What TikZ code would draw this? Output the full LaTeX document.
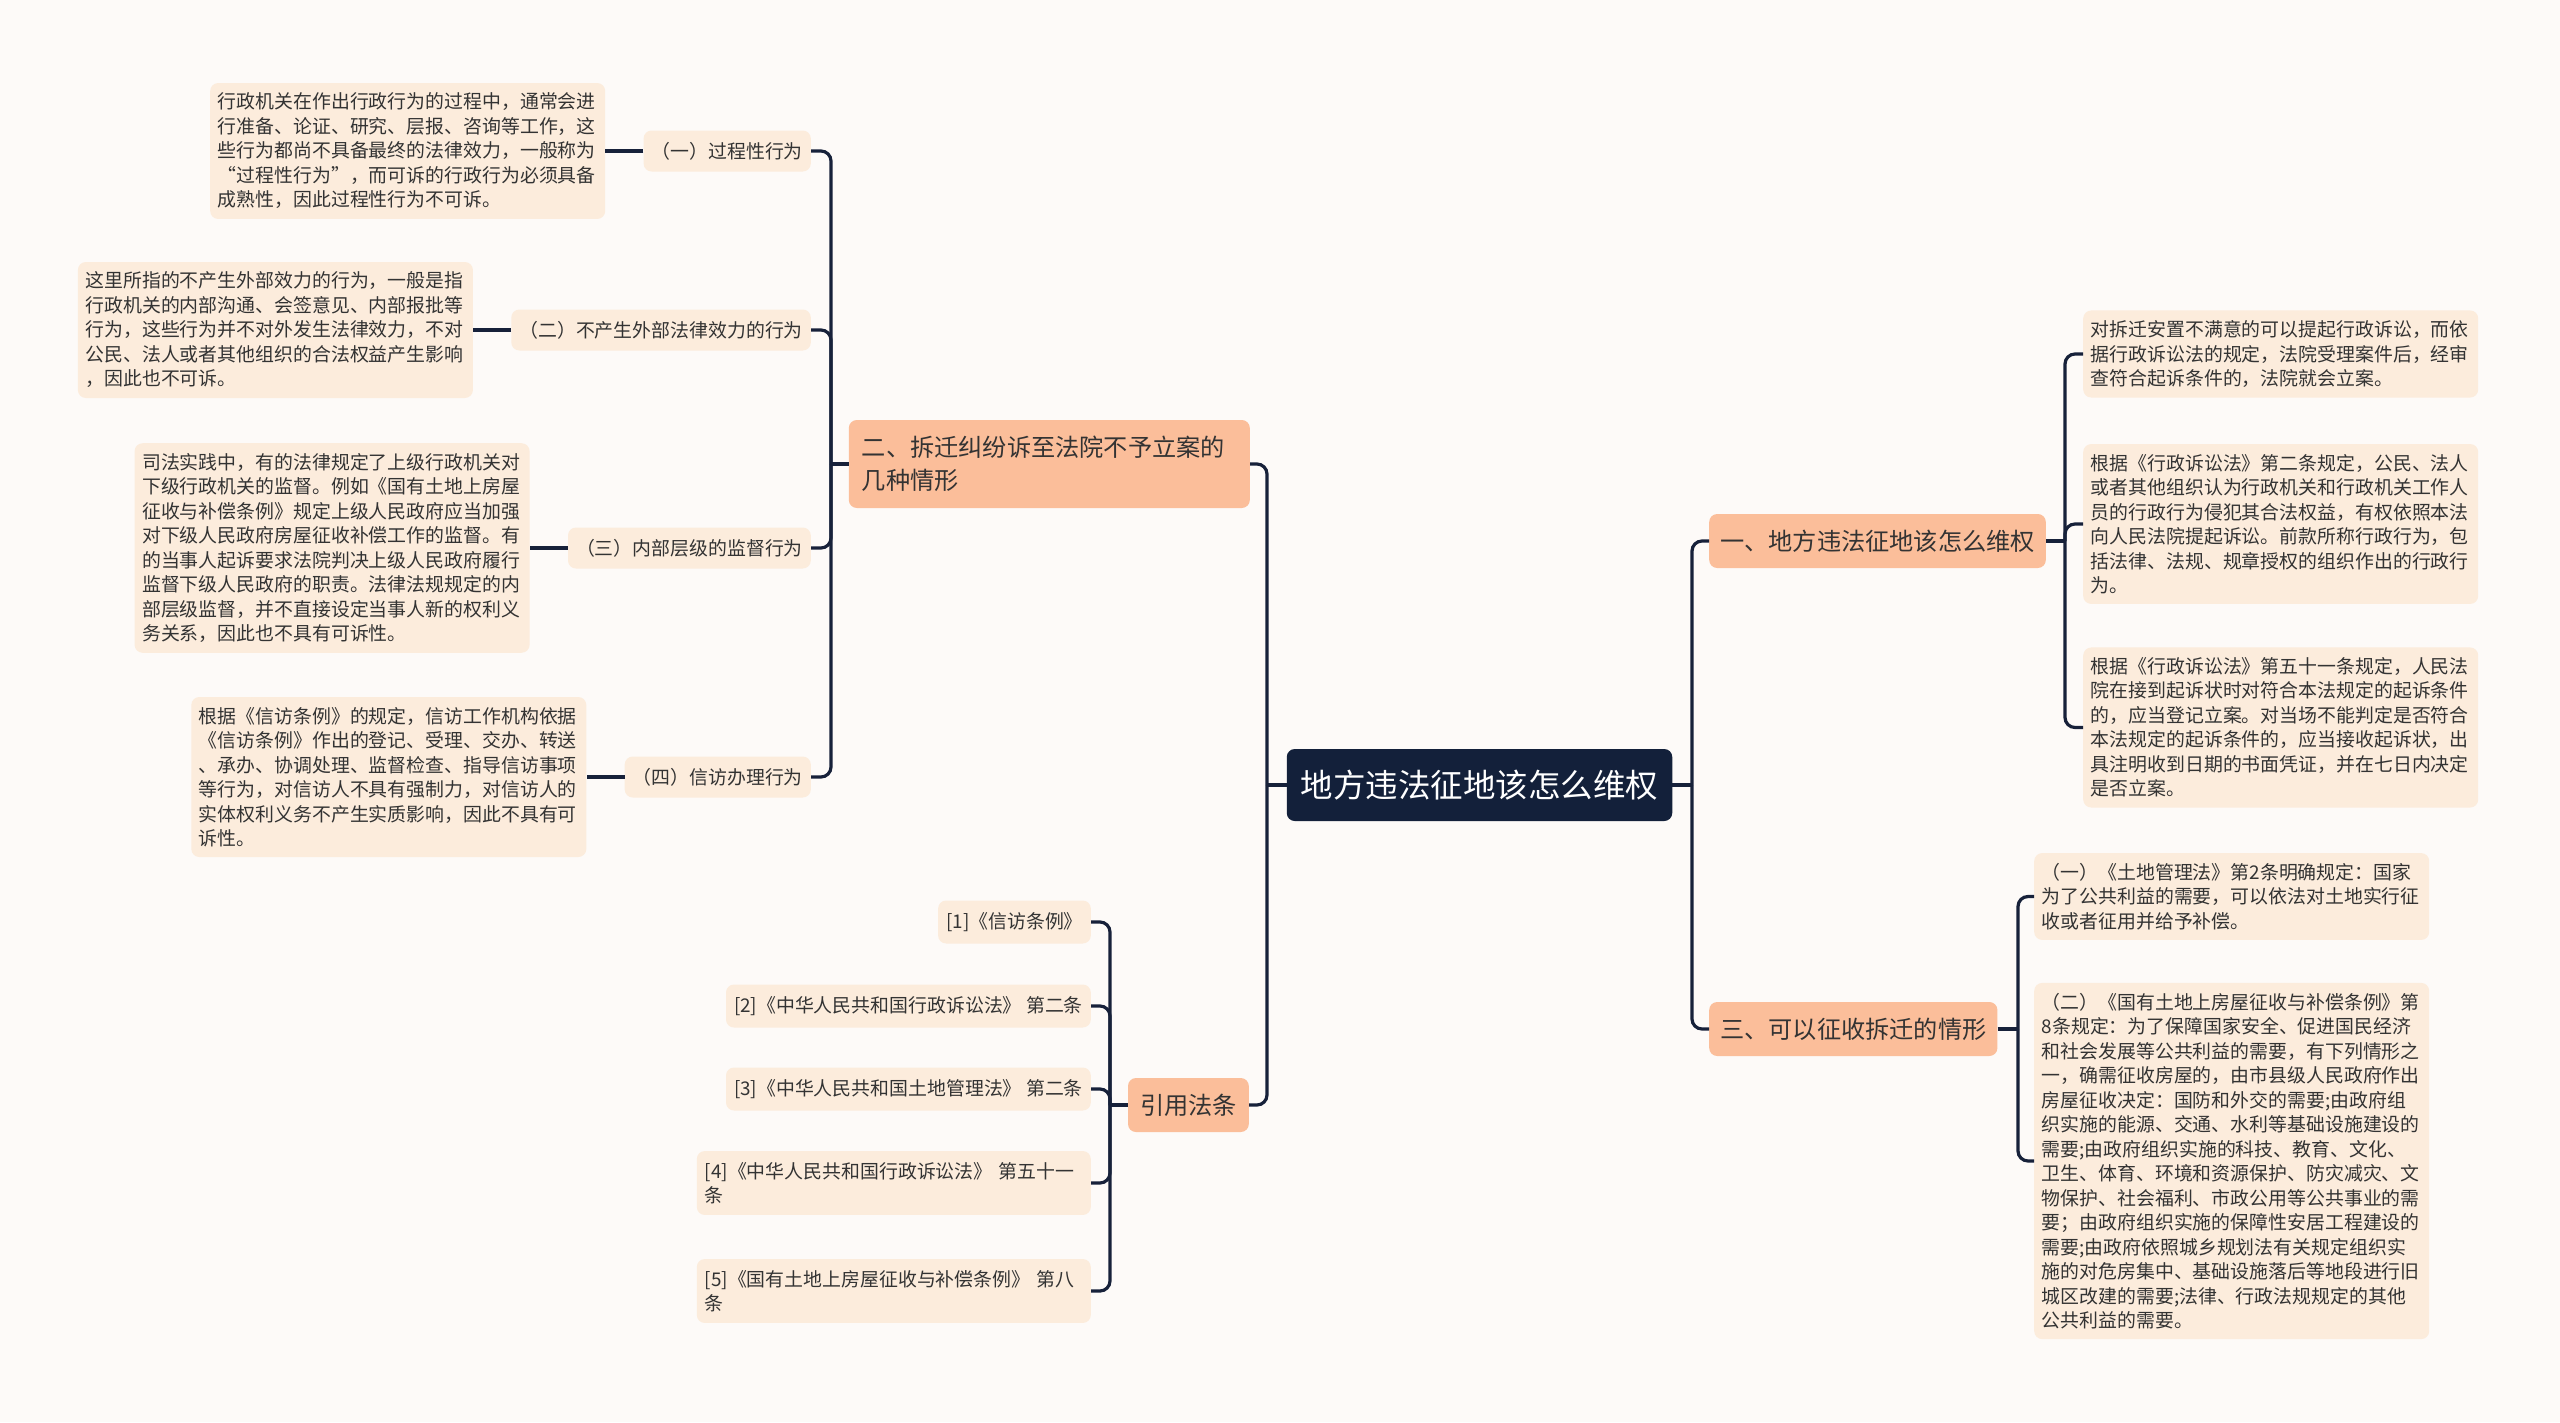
\documentclass[tikz,border=0pt]{standalone}
\usepackage{fontspec}
\setmainfont{Noto Sans CJK SC}
\definecolor{bgc}{HTML}{FDFAF8}
\definecolor{linec}{HTML}{17213A}
\definecolor{rootc}{HTML}{13203A}
\definecolor{lonec}{HTML}{FBBE9A}
\definecolor{leafc}{HTML}{FCECDC}
\definecolor{txtc}{HTML}{333333}
\tikzset{
  rootbox/.style={fill=rootc, text=white, rounded corners=8, inner xsep=14, minimum height=72,
    font=\fontsize{32.5}{36}\selectfont},
  lonebox/.style={fill=lonec, text=txtc, rounded corners=8, inner xsep=11, minimum height=54,
    font=\fontsize{24.2}{32.6}\selectfont},
  ltwobox/.style={fill=leafc, text=txtc, rounded corners=8, inner xsep=8, minimum height=41,
    font=\fontsize{18.9}{24.5}\selectfont},
  descbox/.style={fill=leafc, text=txtc, rounded corners=8, inner xsep=7.5, inner ysep=10,
    text width=380, align=left, font=\fontsize{18.9}{24.5}\selectfont},
  citebox/.style={fill=leafc, text=txtc, rounded corners=8, inner xsep=8, inner ysep=11, minimum height=43,
    align=left, font=\fontsize{18.9}{24.5}\selectfont},
  conn/.style={draw=linec, line width=3.2, rounded corners=10},
}
\begin{document}
\begin{tikzpicture}[x=1pt, y=-1pt]
\fill[bgc] (0,0) rectangle (2560,1422);
\useasboundingbox (0,0) rectangle (2560,1422);

% root
\node[rootbox] (root) at (1479.5,785) {地方违法征地该怎么维权};

% level one
\node[lonebox, anchor=east, text width=375, align=left, inner xsep=13, minimum height=88] (n2) at (1250,464)
  {二、拆迁纠纷诉至法院不予立案的\\几种情形};
\node[lonebox, anchor=east, inner xsep=12] (cite) at (1249,1105) {引用法条};
\node[lonebox, anchor=west] (n1) at (1709,541) {一、地方违法征地该怎么维权};
\node[lonebox, anchor=west] (n3) at (1709,1029) {三、可以征收拆迁的情形};

% left level two
\node[ltwobox, anchor=east] (a1) at (811,151) {（一）过程性行为};
\node[ltwobox, anchor=east] (a2) at (811,330) {（二）不产生外部法律效力的行为};
\node[ltwobox, anchor=east] (a3) at (811,548) {（三）内部层级的监督行为};
\node[ltwobox, anchor=east] (a4) at (811,777) {（四）信访办理行为};

% left descriptions
\node[descbox, anchor=east] (d1) at ([xshift=-38]a1.west)
  {行政机关在作出行政行为的过程中，通常会进\\行准备、论证、研究、层报、咨询等工作，这\\些行为都尚不具备最终的法律效力，一般称为\\“过程性行为”，而可诉的行政行为必须具备\\成熟性，因此过程性行为不可诉。};
\node[descbox, anchor=east] (d2) at ([xshift=-38]a2.west)
  {这里所指的不产生外部效力的行为，一般是指\\行政机关的内部沟通、会签意见、内部报批等\\行为，这些行为并不对外发生法律效力，不对\\公民、法人或者其他组织的合法权益产生影响\\，因此也不可诉。};
\node[descbox, anchor=east] (d3) at ([xshift=-38]a3.west)
  {司法实践中，有的法律规定了上级行政机关对\\下级行政机关的监督。例如《国有土地上房屋\\征收与补偿条例》规定上级人民政府应当加强\\对下级人民政府房屋征收补偿工作的监督。有\\的当事人起诉要求法院判决上级人民政府履行\\监督下级人民政府的职责。法律法规规定的内\\部层级监督，并不直接设定当事人新的权利义\\务关系，因此也不具有可诉性。};
\node[descbox, anchor=east] (d4) at ([xshift=-38]a4.west)
  {根据《信访条例》的规定，信访工作机构依据\\《信访条例》作出的登记、受理、交办、转送\\、承办、协调处理、监督检查、指导信访事项\\等行为，对信访人不具有强制力，对信访人的\\实体权利义务不产生实质影响，因此不具有可\\诉性。};

% citations
\node[citebox, anchor=east] (c1) at (1091,922) {[1]《信访条例》};
\node[citebox, anchor=east] (c2) at (1091,1006) {[2]《中华人民共和国行政诉讼法》 第二条};
\node[citebox, anchor=east] (c3) at (1091,1089) {[3]《中华人民共和国土地管理法》 第二条};
\node[citebox, anchor=east, text width=378] (c4) at (1091,1183) {[4]《中华人民共和国行政诉讼法》 第五十一\\条};
\node[citebox, anchor=east, text width=378] (c5) at (1091,1291) {[5]《国有土地上房屋征收与补偿条例》 第八\\条};

% right descriptions
\node[descbox, anchor=west] (r1) at (2083,354)
  {对拆迁安置不满意的可以提起行政诉讼，而依\\据行政诉讼法的规定，法院受理案件后，经审\\查符合起诉条件的，法院就会立案。};
\node[descbox, anchor=west] (r2) at (2083,524)
  {根据《行政诉讼法》第二条规定，公民、法人\\或者其他组织认为行政机关和行政机关工作人\\员的行政行为侵犯其合法权益，有权依照本法\\向人民法院提起诉讼。前款所称行政行为，包\\括法律、法规、规章授权的组织作出的行政行\\为。};
\node[descbox, anchor=west] (r3) at (2083,727.5)
  {根据《行政诉讼法》第五十一条规定，人民法\\院在接到起诉状时对符合本法规定的起诉条件\\的，应当登记立案。对当场不能判定是否符合\\本法规定的起诉条件的，应当接收起诉状，出\\具注明收到日期的书面凭证，并在七日内决定\\是否立案。};
\node[descbox, anchor=west] (s1) at (2034,896.5)
  {（一）《土地管理法》第2条明确规定：国家\\为了公共利益的需要，可以依法对土地实行征\\收或者征用并给予补偿。};
\node[descbox, anchor=west] (s2) at (2034,1161)
  {（二）《国有土地上房屋征收与补偿条例》第\\8条规定：为了保障国家安全、促进国民经济\\和社会发展等公共利益的需要，有下列情形之\\一，确需征收房屋的，由市县级人民政府作出\\房屋征收决定：国防和外交的需要;由政府组\\织实施的能源、交通、水利等基础设施建设的\\需要;由政府组织实施的科技、教育、文化、\\卫生、体育、环境和资源保护、防灾减灾、文\\物保护、社会福利、市政公用等公共事业的需\\要；由政府组织实施的保障性安居工程建设的\\需要;由政府依照城乡规划法有关规定组织实\\施的对危房集中、基础设施落后等地段进行旧\\城区改建的需要;法律、行政法规规定的其他\\公共利益的需要。};

% junctions
\coordinate (jL) at (1267,785);
\coordinate (jR) at (1692,785);
\coordinate (j2) at (831,464);
\coordinate (jc) at (1110,1105);
\coordinate (j1) at (2065,541);
\coordinate (j3) at (2018,1029);

% connectors
\draw[conn] (root.west) -- (jL);
\draw[conn] (jL) |- (n2.east);
\draw[conn] (jL) |- (cite.east);
\draw[conn] (root.east) -- (jR);
\draw[conn] (jR) |- (n1.west);
\draw[conn] (jR) |- (n3.west);

\draw[conn] (n2.west) -- (j2);
\foreach \c in {a1,a2,a3,a4} \draw[conn] (j2) |- (\c.east);
\draw[conn] (a1.west) -- (d1.east);
\draw[conn] (a2.west) -- (d2.east);
\draw[conn] (a3.west) -- (d3.east);
\draw[conn] (a4.west) -- (d4.east);

\draw[conn] (cite.west) -- (jc);
\foreach \c in {c1,c2,c3,c4,c5} \draw[conn] (jc) |- (\c.east);

\draw[conn] (n1.east) -- (j1);
\foreach \c in {r1,r2,r3} \draw[conn] (j1) |- (\c.west);

\draw[conn] (n3.east) -- (j3);
\foreach \c in {s1,s2} \draw[conn] (j3) |- (\c.west);
\end{tikzpicture}
\end{document}
